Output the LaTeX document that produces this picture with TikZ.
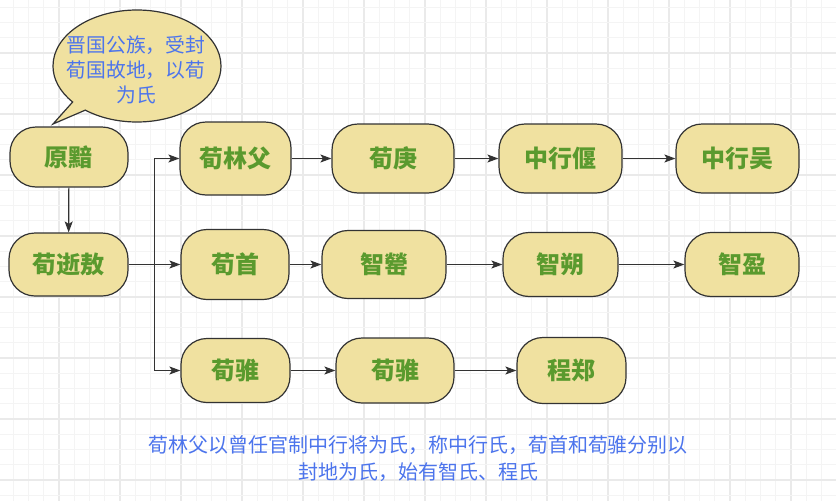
\documentclass[tikz,border=0pt]{standalone}
\usepackage{fontspec}
\setmainfont{Noto Sans CJK SC}
\usetikzlibrary{arrows.meta,shapes.callouts}
\definecolor{nodefill}{HTML}{F0E1A0}
\definecolor{nodetext}{HTML}{5A9A2E}
\definecolor{bluetext}{HTML}{4C74EC}
\definecolor{edge}{HTML}{333333}
\definecolor{gridminor}{HTML}{F4F4F4}
\definecolor{gridmajor}{HTML}{EAEAEA}
\tikzset{
  person/.style={draw=edge, line width=1.2pt, fill=nodefill, rounded corners=26pt,
    text=nodetext, font=\fontsize{24}{28}\selectfont\bfseries, inner sep=0pt},
  arr/.style={draw=edge, line width=1.2pt, -{Stealth[length=11pt,width=8pt,inset=2.5pt]}},
  note/.style={text=bluetext, align=center, inner sep=0pt}
}
\begin{document}
\begin{tikzpicture}[x=1pt,y=-1pt]
\useasboundingbox (0,0) rectangle (836,501);
\fill[white] (0,0) rectangle (836,501);
% grid
\foreach \i in {0,...,56}{
  \pgfmathsetmacro{\gx}{-2+15.25*\i}
  \pgfmathtruncatemacro{\m}{mod(\i,4)}
  \ifnum\m=0
    \draw[gridmajor, line width=1.2pt] (\gx,0) -- (\gx,501);
  \else
    \draw[gridminor, line width=1pt] (\gx,0) -- (\gx,501);
  \fi
}
\foreach \i in {0,...,34}{
  \pgfmathsetmacro{\gy}{-8+15.25*\i}
  \pgfmathtruncatemacro{\m}{mod(\i,4)}
  \ifnum\m=0
    \draw[gridmajor, line width=1.2pt] (0,\gy) -- (836,\gy);
  \else
    \draw[gridminor, line width=1pt] (0,\gy) -- (836,\gy);
  \fi
}
% callout bubble
\node[ellipse callout, draw=edge, line width=1.2pt, fill=nodefill,
  minimum width=168pt, minimum height=112pt, inner sep=0pt,
  callout absolute pointer={(53,124)}, callout pointer arc=12] (bubble) at (137,66) {};
\node[note, font=\fontsize{19.8}{25}\selectfont] (bubbletext) at (136,70)
  {晋国公族，受封\\荀国故地，以荀\\为氏};
% nodes
\node[person, minimum width=118pt, minimum height=60pt] (yuanan) at (69,157) {原黯};
\node[person, minimum width=119pt, minimum height=63pt] (xunxi) at (68.5,264.5) {荀逝敖};
\node[person, minimum width=111pt, minimum height=73pt] (linfu) at (235.5,158.5) {荀林父};
\node[person, minimum width=122pt, minimum height=69pt] (geng) at (393,158.5) {荀庚};
\node[person, minimum width=123pt, minimum height=69pt] (yan) at (560.5,158.5) {中行偃};
\node[person, minimum width=123pt, minimum height=69pt] (wu) at (737.5,158.5) {中行吴};
\node[person, minimum width=108pt, minimum height=70pt] (shou) at (235,264.5) {荀首};
\node[person, minimum width=124pt, minimum height=68pt] (ying) at (384,264.5) {智罃};
\node[person, minimum width=115pt, minimum height=64pt] (shuo) at (560.5,264.5) {智朔};
\node[person, minimum width=114pt, minimum height=64pt] (yingb) at (742,264.5) {智盈};
\node[person, minimum width=109pt, minimum height=64pt] (zhuia) at (235.5,370.5) {荀骓};
\node[person, minimum width=118pt, minimum height=65pt] (zhuib) at (395,370.5) {荀骓};
\node[person, minimum width=109pt, minimum height=66pt] (zheng) at (571.5,370.5) {程郑};
% connectors
\draw[arr] (yuanan) -- (xunxi);
\coordinate (br) at (154.5,264.5);
\draw[arr] (xunxi.east) -- (shou.west);
\draw[arr] (br) |- (linfu.west);
\draw[arr] (br) |- (zhuia.west);
\draw[arr] (linfu) -- (geng);
\draw[arr] (geng) -- (yan);
\draw[arr] (yan) -- (wu);
\draw[arr] (shou) -- (ying);
\draw[arr] (ying) -- (shuo);
\draw[arr] (shuo) -- (yingb);
\draw[arr] (zhuia) -- (zhuib);
\draw[arr] (zhuib) -- (zheng);
% bottom note
\node[note, font=\fontsize{20}{27}\selectfont] (summary) at (418,459)
  {荀林父以曾任官制中行将为氏，称中行氏，荀首和荀骓分别以\\封地为氏，始有智氏、程氏};
\end{tikzpicture}
\end{document}
